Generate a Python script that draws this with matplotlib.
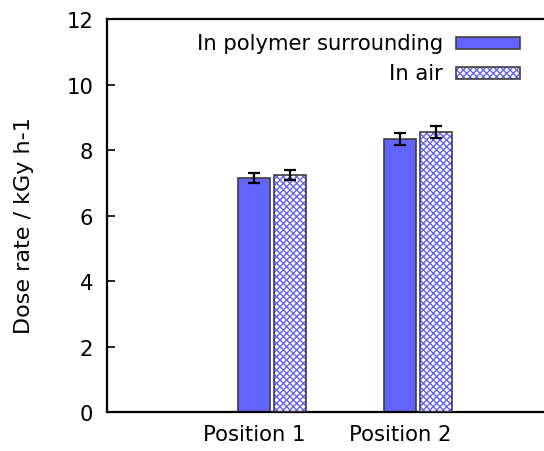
import matplotlib
matplotlib.use("Agg")
import matplotlib.pyplot as plt
from matplotlib.patches import Rectangle
import numpy as np

categories = ["Position 1", "Position 2"]
polymer = [7.15, 8.34]
polymer_err = [0.15, 0.18]
air = [7.24, 8.54]
air_err = [0.16, 0.18]
series_labels = ["In polymer surrounding", "In air"]
yticks = [0, 2, 4, 6, 8, 10, 12]

plt.rcParams["font.family"] = ["DejaVu Sans"]
plt.rcParams["hatch.linewidth"] = 1.0

W, H = 544, 452
fs = 15.2
fig = plt.figure(figsize=(W / 100, H / 100), dpi=100)
ax = fig.add_axes([107 / W, 1 - 413 / H, (W - 107) / W, (413 - 20) / H])

fill = "#6363ff"
edge = "#404040"
x = np.arange(1, len(categories) + 1)
w = 0.22
off = 0.123

ax.bar(x - off, polymer, w, color=fill, edgecolor=edge, linewidth=1.2, zorder=2)
ax.bar(x + off, air, w, color="white", edgecolor=fill, hatch="xxxxx", linewidth=0, zorder=2)
ax.bar(x + off, air, w, color="none", edgecolor=edge, linewidth=1.2, zorder=3)

ekw = dict(fmt="none", ecolor="black", elinewidth=1.6, capsize=4, capthick=1.6, zorder=4)
ax.errorbar(x - off, polymer, yerr=polymer_err, **ekw)
ax.errorbar(x + off, air, yerr=air_err, **ekw)

ax.set_xlim(-0.13, 2.86)
ax.set_ylim(0, 12)
ax.set_yticks(yticks)
# category labels sit under the first bar of each cluster
ax.set_xticks(x - off)
ax.set_xticklabels(categories)
ax.tick_params(axis="y", direction="in", length=6, width=1.2, labelsize=fs, pad=10, right=False)
ax.tick_params(axis="x", length=0, labelsize=fs, pad=9)
ax.set_ylabel("Dose rate / kGy h-1", fontsize=16)
ax.yaxis.set_label_coords(-(107 - 34) / (W - 107), (413 - 226) / (413 - 20))

for s in ["left", "top", "bottom"]:
    ax.spines[s].set_linewidth(1.6)
ax.spines["right"].set_visible(False)

# legend drawn in axes pixel space, text right-aligned next to sample boxes
def to_axes(px, py):
    return ((px - 107) / (W - 107), (413 - py) / (413 - 20))

for i, lab in enumerate(series_labels):
    cy = 44 + i * 30
    tx, ty = to_axes(443, cy)
    ax.text(tx, ty, lab, transform=ax.transAxes, ha="right", va="center", fontsize=fs)
    bx, by = to_axes(456, cy + 6)
    bw = 64 / (W - 107)
    bh = 12 / (413 - 20)
    if i == 0:
        ax.add_patch(Rectangle((bx, by), bw, bh, transform=ax.transAxes,
                               facecolor=fill, edgecolor=edge, linewidth=1.2, clip_on=False))
    else:
        ax.add_patch(Rectangle((bx, by), bw, bh, transform=ax.transAxes,
                               facecolor="white", edgecolor=fill, hatch="xxxxx", linewidth=0, clip_on=False))
        ax.add_patch(Rectangle((bx, by), bw, bh, transform=ax.transAxes,
                               facecolor="none", edgecolor=edge, linewidth=1.2, clip_on=False))

fig.savefig("out.png", dpi=100)
